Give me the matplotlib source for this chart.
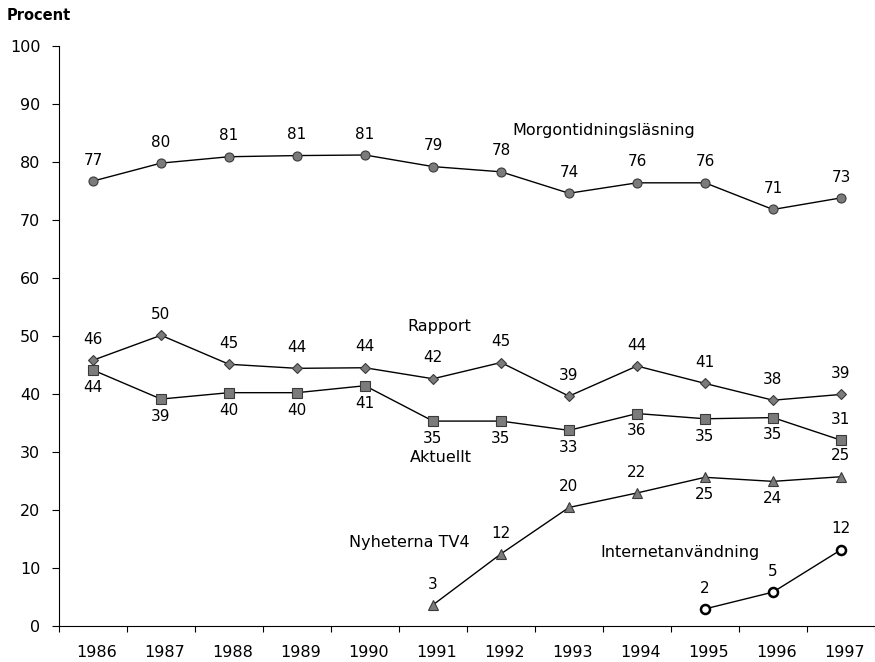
import matplotlib.pyplot as plt

plt.rcParams['font.family'] = ['DejaVu Sans']

years = ['1986', '1987', '1988', '1989', '1990', '1991',
         '1992', '1993', '1994', '1995', '1996', '1997']

# plotted values and the printed data labels
morgon = [76.7, 79.8, 80.9, 81.1, 81.2, 79.2, 78.3, 74.6, 76.4, 76.4, 71.8, 73.8]
morgon_lab = ['77', '80', '81', '81', '81', '79', '78', '74', '76', '76', '71', '73']

rapport = [45.8, 50.1, 45.1, 44.4, 44.5, 42.6, 45.4, 39.6, 44.8, 41.8, 38.9, 39.9]
rapport_lab = ['46', '50', '45', '44', '44', '42', '45', '39', '44', '41', '38', '39']

aktuellt = [44.1, 39.1, 40.2, 40.2, 41.4, 35.3, 35.3, 33.7, 36.6, 35.7, 35.9, 32.0]
aktuellt_lab = ['44', '39', '40', '40', '41', '35', '35', '33', '36', '35', '35', '31']

tv4_x = [5, 6, 7, 8, 9, 10, 11]
tv4 = [3.6, 12.4, 20.4, 22.9, 25.6, 24.9, 25.7]
tv4_lab = ['3', '12', '20', '22', '25', '24', '25']

net_x = [9, 10, 11]
net = [2.9, 5.8, 13.1]
net_lab = ['2', '5', '12']

fig = plt.figure(figsize=(8.75, 6.62), dpi=100)
ax = fig.add_axes([59 / 875, 0.0548, 1 - 59 / 875, 0.8757])

grey = '#7b7b7b'
edge = '#3a3a3a'
x_all = list(range(len(years)))

ax.plot(x_all, morgon, color='black', lw=1, marker='o', ms=6.5,
        mfc=grey, mec=edge, mew=0.8)
ax.plot(x_all, rapport, color='black', lw=1, marker='D', ms=5.5,
        mfc=grey, mec=edge, mew=0.8)
ax.plot(x_all, aktuellt, color='black', lw=1, marker='s', ms=6.5,
        mfc=grey, mec=edge, mew=0.8)
ax.plot(tv4_x, tv4, color='black', lw=1, marker='^', ms=7,
        mfc=grey, mec=edge, mew=0.8)
ax.plot(net_x, net, color='black', lw=1, marker='o', ms=6.5,
        mfc='white', mec='black', mew=1.8)


def put_labels(xs, ys, labs, where):
    for x, y, t, w in zip(xs, ys, labs, where):
        dy = 15 if w == 'a' else -12.5
        ax.annotate(t, (x, y), xytext=(0, dy), textcoords='offset points',
                    ha='center', va='center', fontsize=11)


put_labels(x_all, morgon, morgon_lab, 'a' * 12)
put_labels(x_all, rapport, rapport_lab, 'a' * 12)
put_labels(x_all, aktuellt, aktuellt_lab, 'b' * 11 + 'a')
put_labels(tv4_x, tv4, tv4_lab, 'aaaabba')
put_labels(net_x, net, net_lab, 'aaa')

# series names
ax.text(6.16, 85.4, 'Morgontidningsläsning', fontsize=11.5, va='center')
ax.text(4.62, 51.7, 'Rapport', fontsize=11.5, va='center')
ax.text(4.66, 29.1, 'Aktuellt', fontsize=11.5, va='center')
ax.text(3.77, 14.3, 'Nyheterna TV4', fontsize=11.5, va='center')
ax.text(7.46, 12.6, 'Internetanvändning', fontsize=11.5, va='center')

fig.text(7 / 875, 1 - 16 / 662, 'Procent', fontsize=10.5, fontweight='bold',
         va='center', ha='left')

ax.set_ylim(0, 100)
ax.set_xlim(-0.5, 11.47)
ax.set_yticks(range(0, 101, 10))
ax.tick_params(axis='y', direction='out', length=5, width=0.8, pad=8.5,
               labelsize=11.5)

ax.set_xticks([i - 0.5 for i in range(13)])
ax.set_xticklabels([])
ax.set_xticks([i + 0.05 for i in x_all], minor=True)
ax.set_xticklabels(years, minor=True)
ax.tick_params(axis='x', which='major', direction='out', length=4, width=0.8)
ax.tick_params(axis='x', which='minor', length=0, pad=14, labelsize=11.5)

ax.spines['top'].set_visible(False)
ax.spines['right'].set_visible(False)
for s in ['left', 'bottom']:
    ax.spines[s].set_linewidth(0.8)

fig.savefig('out.png', dpi=100)
